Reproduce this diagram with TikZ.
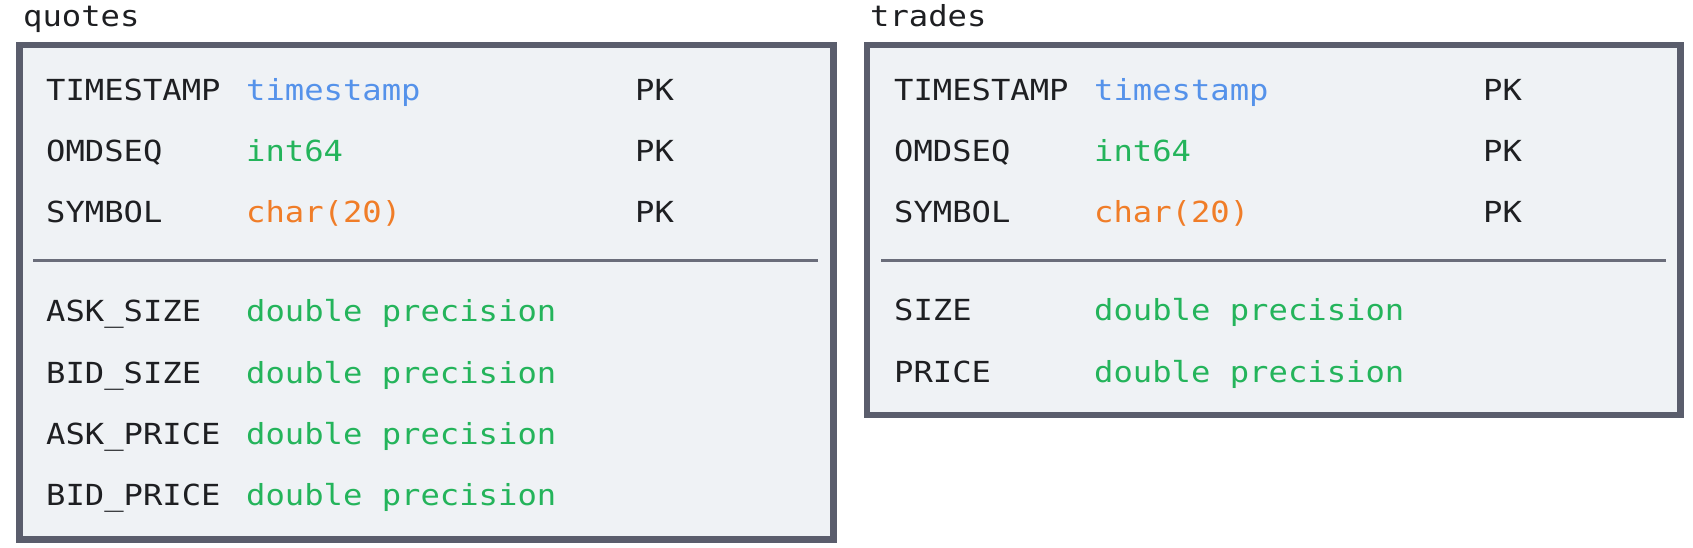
\documentclass[tikz,border=0pt]{standalone}
\usepackage{fontspec}
\newfontfamily\monofnt[FakeStretch=1.11]{DejaVu Sans Mono}
\definecolor{bordercol}{HTML}{5A5D6C}
\definecolor{sepcol}{HTML}{6A6D7A}
\definecolor{fillcol}{HTML}{EFF2F5}
\definecolor{txtcol}{HTML}{1E1F22}
\definecolor{tsblue}{HTML}{5592EA}
\definecolor{intgreen}{HTML}{24B45B}
\definecolor{chorange}{HTML}{F07D28}
\tikzset{
  tablebox/.style={draw=bordercol, line width=6.5pt, fill=fillcol},
  sepline/.style={draw=sepcol, line width=3.5pt},
  txt/.style={anchor=base west, inner sep=0pt, font=\monofnt\fontsize{29}{34}\selectfont, text=txtcol},
  tname/.style={txt},
  tts/.style={txt, text=tsblue},
  tint/.style={txt, text=intgreen},
  tchar/.style={txt, text=chorange},
  tdbl/.style={txt, text=intgreen},
}
\begin{document}
\begin{tikzpicture}[x=1pt, y=-1pt]
\useasboundingbox (0,0) rectangle (1693,547);
% quotes table
\node[txt] (qtitle) at (23,26) {quotes};
\draw[tablebox] (19.3,45) rectangle (833.5,539.4);
\coordinate (qsl) at (33,260.5);
\coordinate (qsr) at (818,260.5);
\draw[sepline] (qsl) -- (qsr);
\node[tname] (q1n) at (46,100) {TIMESTAMP};
\node[tts]   (q1t) at (246,100) {timestamp};
\node[tname] (q1k) at (635,100) {PK};
\node[tname] (q2n) at (46,161.5) {OMDSEQ};
\node[tint]  (q2t) at (246,161.5) {int64};
\node[tname] (q2k) at (635,161.5) {PK};
\node[tname] (q3n) at (46,222.5) {SYMBOL};
\node[tchar] (q3t) at (246,222.5) {char(20)};
\node[tname] (q3k) at (635,222.5) {PK};
\node[tname] (q4n) at (46,321) {ASK\_SIZE};
\node[tdbl]  (q4t) at (246,321) {double precision};
\node[tname] (q5n) at (46,383) {BID\_SIZE};
\node[tdbl]  (q5t) at (246,383) {double precision};
\node[tname] (q6n) at (46,444) {ASK\_PRICE};
\node[tdbl]  (q6t) at (246,444) {double precision};
\node[tname] (q7n) at (46,505) {BID\_PRICE};
\node[tdbl]  (q7t) at (246,505) {double precision};
% trades table
\node[txt] (ttitle) at (870,26) {trades};
\draw[tablebox] (866.8,45) rectangle (1680.5,414.8);
\coordinate (tsl) at (881,260.5);
\coordinate (tsr) at (1666,260.5);
\draw[sepline] (tsl) -- (tsr);
\node[tname] (t1n) at (894,100) {TIMESTAMP};
\node[tts]   (t1t) at (1094,100) {timestamp};
\node[tname] (t1k) at (1483,100) {PK};
\node[tname] (t2n) at (894,161.5) {OMDSEQ};
\node[tint]  (t2t) at (1094,161.5) {int64};
\node[tname] (t2k) at (1483,161.5) {PK};
\node[tname] (t3n) at (894,222.5) {SYMBOL};
\node[tchar] (t3t) at (1094,222.5) {char(20)};
\node[tname] (t3k) at (1483,222.5) {PK};
\node[tname] (t4n) at (894,320.5) {SIZE};
\node[tdbl]  (t4t) at (1094,320.5) {double precision};
\node[tname] (t5n) at (894,382) {PRICE};
\node[tdbl]  (t5t) at (1094,382) {double precision};
\end{tikzpicture}
\end{document}
